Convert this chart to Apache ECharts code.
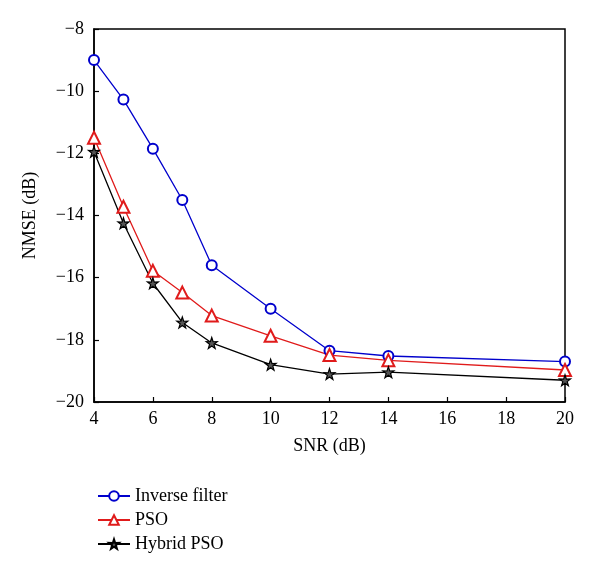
<!DOCTYPE html>
<html><head><meta charset="utf-8">
<script src="https://cdn.jsdelivr.net/npm/echarts@6/dist/echarts.min.js"></script>
<style>html,body{margin:0;padding:0;background:#fff}#c{width:600px;height:576px}</style>
</head><body><div id="c"></div>
<script>
var snr = [4, 5, 6, 7, 8, 10, 12, 14, 20];
var inverseFilter = [-9.0, -10.27, -11.85, -13.5, -15.6, -17.0, -18.35, -18.52, -18.7];
var pso = [-11.5, -13.72, -15.78, -16.48, -17.22, -17.87, -18.49, -18.66, -18.97];
var hybridPso = [-11.95, -14.25, -16.18, -17.44, -18.1, -18.8, -19.1, -19.04, -19.3];
var xTicks = [4, 6, 8, 10, 12, 14, 16, 18, 20];
var yTicks = [-20, -18, -16, -14, -12, -10, -8];

function pairs(xs, ys){ return xs.map(function(x,i){ return [x, ys[i]]; }); }
var starPath = 'path://M50,0 L61.8,35.5 L97.6,34.5 L69,56.5 L79.4,90.5 L50,70 L20.6,90.5 L31,56.5 L2.4,34.5 L38.2,35.5 Z';
var font = '"Liberation Serif", "DejaVu Serif", serif';

var chart = echarts.init(document.getElementById('c'));
chart.setOption({
  animation: false,
  textStyle: {fontFamily: font},
  grid: {left: 94, right: 35, top: 29, bottom: 174, show: true, borderColor: '#000', borderWidth: 1.5, backgroundColor: 'transparent'},
  legend: {
    orient: 'vertical', left: 92, top: 482, itemWidth: 32, itemHeight: 12, itemGap: 6,
    textStyle: {fontFamily: font, fontSize: 18, color: '#000'},
    data: ['Inverse filter', 'PSO', 'Hybrid PSO']
  },
  xAxis: {
    type: 'value', min: 4, max: 20, interval: 2,
    name: 'SNR (dB)', nameLocation: 'middle', nameGap: 35,
    nameTextStyle: {fontFamily: font, fontSize: 18, color: '#000'},
    axisLine: {lineStyle: {color: '#000', width: 1.5}},
    axisTick: {inside: true, length: 5, lineStyle: {color: '#000', width: 1.2}},
    axisLabel: {fontFamily: font, fontSize: 18, color: '#000', margin: 8,
      formatter: function(v){ return xTicks.indexOf(v) >= 0 ? String(v) : ''; }},
    splitLine: {show: false}
  },
  yAxis: {
    type: 'value', min: -20, max: -8, interval: 2,
    name: 'NMSE (dB)', nameLocation: 'middle', nameGap: 55,
    nameTextStyle: {fontFamily: font, fontSize: 18, color: '#000'},
    axisLine: {lineStyle: {color: '#000', width: 1.5}},
    axisTick: {inside: true, length: 5, lineStyle: {color: '#000', width: 1.2}},
    axisLabel: {fontFamily: font, fontSize: 18, color: '#000', margin: 10,
      formatter: function(v){ return yTicks.indexOf(v) >= 0 ? String(v).replace('-', '\u2212') : ''; }},
    splitLine: {show: false}
  },
  series: [
    {name: 'Inverse filter', type: 'line', data: pairs(snr, inverseFilter),
     symbol: 'emptyCircle', symbolSize: 10,
     lineStyle: {color: '#0000cc', width: 1.3}, itemStyle: {color: '#0000cc', borderWidth: 1.5}},
    {name: 'PSO', type: 'line', data: pairs(snr, pso),
     symbol: 'emptyTriangle', symbolSize: 12,
     lineStyle: {color: '#e01b1b', width: 1.3}, itemStyle: {color: '#e01b1b', borderWidth: 1.5}},
    {name: 'Hybrid PSO', type: 'line', data: pairs(snr, hybridPso),
     symbol: starPath, symbolSize: 11,
     lineStyle: {color: '#000', width: 1.3}, itemStyle: {color: '#555', borderColor: '#000', borderWidth: 1.2}}
  ]
});
</script></body></html>
